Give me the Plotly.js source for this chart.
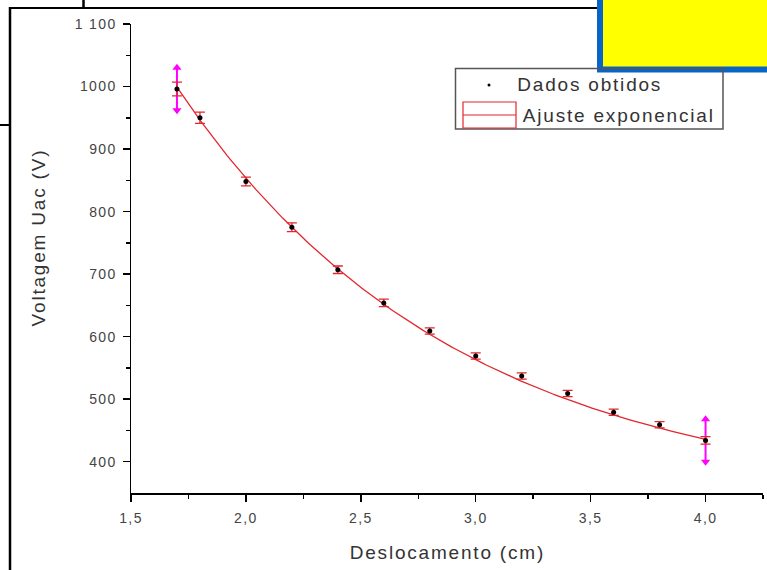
<!DOCTYPE html>
<html>
<head>
<meta charset="utf-8">
<script src="https://cdn.plot.ly/plotly-3.0.1.min.js"></script>
<style>
  html, body { margin: 0; padding: 0; background: #fff; }
  #chart { width: 767px; height: 570px; }
  /* wide, airy lettering for labels */
  #chart .annotation-text { letter-spacing: 1.8px; }
  #chart .xtick text, #chart .ytick text { letter-spacing: 1.4px; }
</style>
</head>
<body>
<div id="chart"></div>
<script>
// Measured displacement (cm) and AC voltage (V)
var deslocamento = [1.7, 1.8, 2.0, 2.2, 2.4, 2.6, 2.8, 3.0, 3.2, 3.4, 3.6, 3.8, 4.0];
var voltagem     = [996, 950, 848, 775, 707, 654, 609, 569, 537, 509, 479, 459, 434];
var erroVoltagem = [11, 9, 7, 7, 6, 6, 5, 5, 5, 5, 5, 5, 6];

// Exponential decay fit: U = y0 + A * exp(-(x - x0) / t)
var ajusteY0 = 337;
var ajusteA = 662;
var ajusteX0 = 1.7;
var ajusteT = 1.21;

var xTickVals = [1.5, 2.0, 2.5, 3.0, 3.5, 4.0];
var xTickText = ['1,5', '2,0', '2,5', '3,0', '3,5', '4,0'];
var yTickVals = [400, 500, 600, 700, 800, 900, 1000, 1100];
var yTickText = ['400', '500', '600', '700', '800', '900', '1000', '1 100'];

// Plot area geometry in pixels
var L = 131, T = 24, W = 632, H = 469;
function px(x) { return (x - L) / W; }
function py(y) { return (T + H - y) / H; }

// Fit curve sampled over the measured range
var fitX = [], fitY = [];
var xa = deslocamento[0], xb = deslocamento[deslocamento.length - 1];
for (var i = 0; i <= 200; i++) {
  var x = xa + (xb - xa) * i / 200;
  fitX.push(x);
  fitY.push(ajusteY0 + ajusteA * Math.exp(-(x - ajusteX0) / ajusteT));
}

// Drag handles on the first and last points
var nLast = deslocamento.length - 1;
var handleSpan = 34;
function handle(k) {
  return {
    x: [deslocamento[k], deslocamento[k]],
    y: [voltagem[k] + handleSpan, voltagem[k] - handleSpan],
    mode: 'lines+markers',
    line: { color: '#ff00ff', width: 2 },
    marker: { color: '#ff00ff', size: 8, symbol: ['triangle-up', 'triangle-down'] },
    hoverinfo: 'skip', showlegend: false
  };
}

var red = '#e3262e';
var traces = [
  {
    x: fitX, y: fitY, mode: 'lines',
    line: { color: red, width: 1.3 },
    name: 'Ajuste exponencial', showlegend: false
  },
  handle(0),
  handle(nLast),
  {
    x: deslocamento, y: voltagem, mode: 'markers',
    marker: { color: '#000', size: 5 },
    error_y: { type: 'data', array: erroVoltagem, visible: true, color: red, thickness: 1.3, width: 5 },
    name: 'Dados obtidos', showlegend: false
  }
];

var shapes = [
  // window frame lines
  { type: 'line', xref: 'paper', yref: 'paper', x0: px(10), x1: px(10), y0: py(7), y1: py(575), line: { color: '#000', width: 2.5 } },
  { type: 'line', xref: 'paper', yref: 'paper', x0: px(9), x1: px(600), y0: py(8), y1: py(8), line: { color: '#000', width: 2 } },
  { type: 'line', xref: 'paper', yref: 'paper', x0: px(83.5), x1: px(83.5), y0: py(-2), y1: py(8), line: { color: '#000', width: 2.5 } },
  { type: 'line', xref: 'paper', yref: 'paper', x0: px(-2), x1: px(10), y0: py(125), y1: py(125), line: { color: '#000', width: 2 } },
  // yellow note box
  { type: 'rect', xref: 'paper', yref: 'paper', x0: px(600), x1: px(772), y0: py(69.5), y1: py(-5), fillcolor: '#ffff00', line: { color: '#0a64c8', width: 6 } },
  // legend frame
  { type: 'rect', xref: 'paper', yref: 'paper', x0: px(455.5), x1: px(723), y0: py(129), y1: py(68.5), fillcolor: 'rgba(0,0,0,0)', line: { color: '#555', width: 1.5 } },
  // legend dot
  { type: 'circle', xref: 'paper', yref: 'paper', x0: px(487.5), x1: px(490.5), y0: py(86.5), y1: py(83.5), fillcolor: '#000', line: { color: '#000', width: 0 } },
  // legend fit symbol
  { type: 'rect', xref: 'paper', yref: 'paper', x0: px(463), x1: px(516), y0: py(128), y1: py(102), fillcolor: 'rgba(0,0,0,0)', line: { color: red, width: 1.2 } },
  { type: 'line', xref: 'paper', yref: 'paper', x0: px(463), x1: px(516), y0: py(115), y1: py(115), line: { color: red, width: 1.2 } }
];

var textFont = { family: 'Liberation Sans, Arial, sans-serif', size: 19, color: '#333' };
var annotations = [
  { text: 'Dados obtidos', xref: 'paper', yref: 'paper', x: px(527), y: py(85), xanchor: 'left', yanchor: 'middle', showarrow: false, font: textFont },
  { text: 'Ajuste exponencial', xref: 'paper', yref: 'paper', x: px(537), y: py(115), xanchor: 'left', yanchor: 'middle', showarrow: false, font: textFont },
  { text: 'Deslocamento (cm)', xref: 'paper', yref: 'paper', x: px(447), y: py(552), xanchor: 'center', yanchor: 'middle', showarrow: false, font: textFont },
  { text: 'Voltagem Uac (V)', xref: 'paper', yref: 'paper', x: px(39), y: py(238), xanchor: 'center', yanchor: 'middle', textangle: -90, showarrow: false, font: textFont }
];

var tickFont = { family: 'Liberation Sans, Arial, sans-serif', size: 14, color: '#444' };

var layout = {
  width: 767, height: 570,
  margin: { l: L, r: 767 - L - W, t: T, b: 570 - T - H, pad: 0 },
  paper_bgcolor: '#fff', plot_bgcolor: '#fff',
  showlegend: false,
  xaxis: {
    range: [1.5, 4.25], showgrid: false, zeroline: false,
    showline: true, linecolor: '#000', linewidth: 1.5,
    ticks: 'outside', ticklen: 7, tickwidth: 1.5, tickcolor: '#000',
    tickmode: 'array', tickvals: xTickVals, ticktext: xTickText,
    tickfont: tickFont, ticklabelstandoff: 5,
    minor: { tickvals: [1.75, 2.25, 2.75, 3.25, 3.75, 4.25], ticks: 'outside', ticklen: 4, tickwidth: 1.5, tickcolor: '#000' }
  },
  yaxis: {
    range: [350, 1100], showgrid: false, zeroline: false,
    showline: true, linecolor: '#000', linewidth: 1.5,
    ticks: 'outside', ticklen: 7, tickwidth: 1.5, tickcolor: '#000',
    tickmode: 'array', tickvals: yTickVals, ticktext: yTickText,
    tickfont: tickFont, ticklabelstandoff: 3,
    minor: { tickvals: [450, 550, 650, 750, 850, 950, 1050], ticks: 'outside', ticklen: 4, tickwidth: 1.5, tickcolor: '#000' }
  },
  shapes: shapes,
  annotations: annotations
};

Plotly.newPlot('chart', traces, layout, { displayModeBar: false, staticPlot: true });
</script>
</body>
</html>
